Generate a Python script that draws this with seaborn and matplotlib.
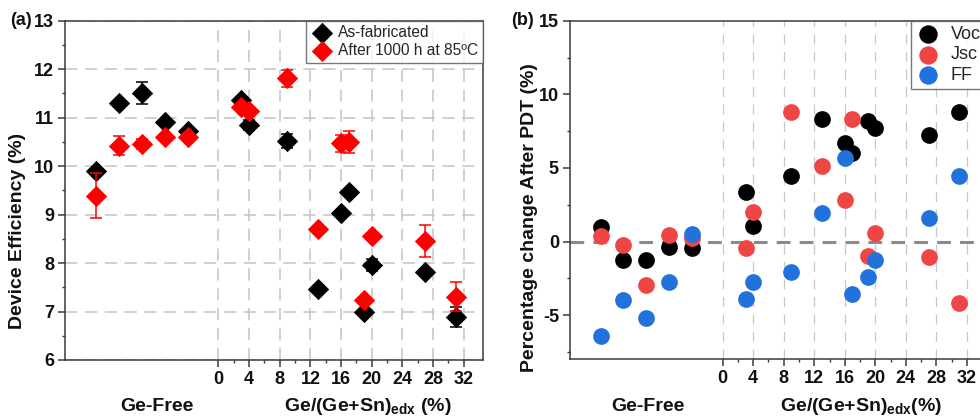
import numpy as np
import pandas as pd
import matplotlib
matplotlib.use("Agg")
import matplotlib.pyplot as plt
import seaborn as sns

# ---------------- data ----------------
# x positions: Ge-free samples placed at negative offsets, Ge-containing at Ge/(Ge+Sn) %
x_pos = [-16, -13, -10, -7, -4, 3, 4, 9, 13, 16, 17, 19, 20, 27, 31]

# panel (a): device efficiency (%)
eff_fab = [9.90, 11.30, 11.51, 10.90, 10.73, 11.36, 10.85, 10.52, 7.46, 9.04, 9.47, 6.98, 7.96, 7.82, 6.89]
eff_fab_err = [0.05, 0.05, 0.23, 0.05, 0.05, 0.05, 0.10, 0.15, 0.05, 0.05, 0.05, 0.05, 0.12, 0.05, 0.20]
eff_aged = [9.39, 10.42, 10.46, 10.60, 10.60, 11.21, 11.14, 11.81, 8.70, 10.47, 10.50, 7.24, 8.56, 8.45, 7.31]
eff_aged_err = [0.46, 0.20, 0.10, 0.05, 0.05, 0.05, 0.05, 0.18, 0.05, 0.17, 0.22, 0.05, 0.05, 0.33, 0.29]

# panel (b): percentage change after PDT (%)
voc_change = [1.02, -1.24, -1.24, -0.34, -0.45, 3.36, 1.07, 4.42, 8.31, 6.68, 6.00, 8.20, 7.70, 7.23, 8.81]
jsc_change = [0.39, -0.22, -2.94, 0.41, 0.23, -0.41, 2.00, 8.79, 5.10, 2.83, 8.34, -0.97, 0.57, -1.02, -4.19]
ff_change = [-6.39, -3.96, -5.20, -2.74, 0.52, -3.89, -2.76, -2.04, 1.97, 5.64, -3.58, -2.38, -1.24, 1.59, 4.42]

xticks = [0, 4, 8, 12, 16, 20, 24, 28, 32]
labels_a = ["As-fabricated", "After 1000 h at 85ºC"]
labels_b = ["Voc", "Jsc", "FF"]

# ---------------- style ----------------
sns.set_theme(style="white")
plt.rcParams["font.family"] = ["Liberation Sans", "DejaVu Sans"]
plt.rcParams["mathtext.fontset"] = "custom"
plt.rcParams["mathtext.rm"] = "Liberation Sans"
plt.rcParams["mathtext.bf"] = "Liberation Sans:bold"
plt.rcParams["mathtext.it"] = "Liberation Sans:italic"
plt.rcParams["axes.unicode_minus"] = False

SPINE = "#3a3a3a"
TXT = "#111111"
TICKFS = 13
LABFS = 14

fig = plt.figure(figsize=(9.8, 4.16), dpi=100)
ax_a = fig.add_axes([65 / 980, 1 - 360 / 416, (483 - 65) / 980, (360 - 20.7) / 416])
ax_b = fig.add_axes([570 / 980, 1 - 359.3 / 416, (986 - 570) / 980, (359.3 - 20.7) / 416])


def style_axes(ax):
    for sp in ax.spines.values():
        sp.set_color(SPINE)
        sp.set_linewidth(1.1)
    ax.tick_params(axis="both", which="major", direction="out", length=5, width=1.1,
                   color=SPINE, labelsize=TICKFS, pad=3, bottom=True, left=True)
    ax.tick_params(axis="both", which="minor", direction="out", length=2.5, width=1.0,
                   color=SPINE, bottom=True, left=True)
    for lab in ax.get_xticklabels() + ax.get_yticklabels():
        lab.set_fontweight("bold")
        lab.set_color(TXT)


# ---------------- panel (a) ----------------
ax = ax_a
ax.errorbar(x_pos, eff_fab, yerr=eff_fab_err, fmt="none", ecolor="black",
            elinewidth=1.1, capsize=4, capthick=1.1, zorder=3)
sns.scatterplot(x=x_pos, y=eff_fab, marker="D", color="black", s=118, linewidth=0,
                label=labels_a[0], ax=ax, zorder=4)
ax.errorbar(x_pos, eff_aged, yerr=eff_aged_err, fmt="none", ecolor="#ff0000",
            elinewidth=1.1, capsize=4, capthick=1.1, zorder=5)
sns.scatterplot(x=x_pos, y=eff_aged, marker="D", color="#ff0000", s=118, linewidth=0,
                label=labels_a[1], ax=ax, zorder=6)

ax.set_xlim(-20, 34.5)
ax.set_ylim(6, 13)
ax.set_xticks(xticks)
ax.set_xticks([2, 6, 10, 14, 18, 22, 26, 30], minor=True)
ax.set_yticks(range(6, 14))
ax.set_yticks(np.arange(6.5, 13, 1.0), minor=True)
ax.grid(True, which="major", axis="both", color="#c4c4c4", lw=1.1, ls=(0, (8, 5)))
ax.set_axisbelow(True)
ax.set_xlabel("")
ax.set_ylabel("Device Efficiency (%)", fontsize=LABFS, fontweight="bold", color=TXT)
ax.yaxis.set_label_coords(-0.093, 0.38)
style_axes(ax)
leg = ax.legend(loc="upper right", bbox_to_anchor=(1.0, 1.0), fontsize=11.2,
                frameon=True, fancybox=False, edgecolor="#555555", borderpad=0.3,
                handletextpad=0.3, labelspacing=0.2, borderaxespad=0, handlelength=1.5,
                markerscale=1.0)
leg.get_frame().set_linewidth(1.0)

# ---------------- panel (b) ----------------
ax = ax_b
colors_b = ["#000000", "#f04545", "#2272dd"]
for vals, lab, col in zip([voc_change, jsc_change, ff_change], labels_b, colors_b):
    sns.scatterplot(x=x_pos, y=vals, marker="o", color=col, s=145, linewidth=0,
                    label=lab, ax=ax, zorder=4)

ax.set_xlim(-20, 34.5)
ax.set_ylim(-8, 15)
ax.set_xticks(xticks)
ax.set_xticks([2, 6, 10, 14, 18, 22, 26, 30], minor=True)
ax.set_yticks([-5, 0, 5, 10, 15])
ax.set_yticks([-7.5, -2.5, 2.5, 7.5, 12.5], minor=True)
ax.grid(True, which="major", axis="x", color="#c8c8c8", lw=0.9, ls=(0, (8, 6)))
ax.set_axisbelow(True)
ax.axhline(0, color="#8a8a8a", lw=2.2, ls=(0, (4.5, 3)), zorder=1)
ax.set_xlabel("")
ax.set_ylabel("Percentage change After PDT (%)", fontsize=LABFS, fontweight="bold", color=TXT)
ax.yaxis.set_label_coords(-0.078, 0.42)
style_axes(ax)
leg = ax.legend(loc="upper right", bbox_to_anchor=(1.0, 1.0), fontsize=13,
                frameon=True, fancybox=False, edgecolor="#555555", borderpad=0.3,
                handletextpad=0.6, labelspacing=0.18, borderaxespad=0, handlelength=1.3,
                markerscale=1.1)
leg.get_frame().set_linewidth(1.0)

# ---------------- annotations ----------------
fig.text(21 / 980, 1 - 20.7 / 416, "(a)", fontsize=TICKFS, fontweight="bold",
         ha="center", va="center", color=TXT)
fig.text(522 / 980, 1 - 20.7 / 416, "(b)", fontsize=TICKFS, fontweight="bold",
         ha="center", va="center", color=TXT)
base_y = 1 - 411 / 416
fig.text(157 / 980, base_y, "Ge-Free", fontsize=LABFS, fontweight="bold",
         ha="center", va="baseline", color=TXT)
fig.text(367.5 / 980, base_y, r"Ge/(Ge+Sn)$_{\mathbf{edx}}$ (%)", fontsize=LABFS,
         fontweight="bold", ha="center", va="baseline", color=TXT)
fig.text(648 / 980, base_y, "Ge-Free", fontsize=LABFS, fontweight="bold",
         ha="center", va="baseline", color=TXT)
fig.text(861 / 980, base_y, r"Ge/(Ge+Sn)$_{\mathbf{edx}}$(%)", fontsize=LABFS,
         fontweight="bold", ha="center", va="baseline", color=TXT)

fig.savefig("out.png", dpi=100)
